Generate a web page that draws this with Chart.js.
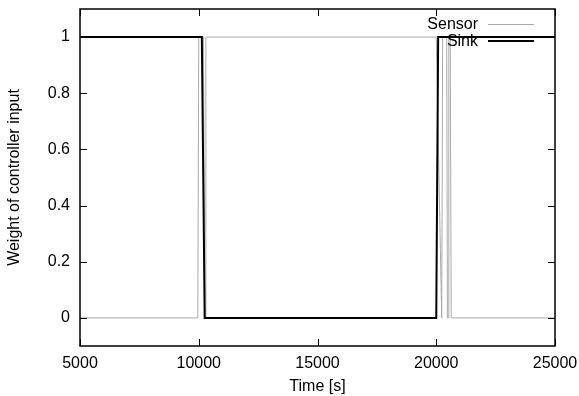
<!DOCTYPE html>
<html>
<head>
<meta charset="utf-8">
<script src="https://cdn.jsdelivr.net/npm/chart.js@4.4.1/dist/chart.umd.min.js"></script>
<style>
  html, body { margin: 0; padding: 0; background: #fff; }
  #wrap { width: 579px; height: 396px; }
</style>
</head>
<body>
<div id="wrap"><canvas id="c" width="579" height="396"></canvas></div>
<script>
// donnees
const sensorTime   = [5000, 9960, 10000, 10200, 10250, 10270, 10300, 20000, 20230, 20270, 20440, 20470, 20500, 20530, 20590, 20630, 25000];
const sensorWeight = [0,    0,    1,     1,     0,     0,     1,     1,     0,     1,     1,     0,     0,     1,     1,     0,     0];
const sinkTime     = [5000, 10130, 10250, 20000, 20080, 25000];
const sinkWeight   = [1,    1,     0,     0,     1,     1];
const xTicks = [5000, 10000, 15000, 20000, 25000];
const yTicks = [0, 0.2, 0.4, 0.6, 0.8, 1];

const font = 'Liberation Sans, Arial, Helvetica, sans-serif';

// cadre + ticks vers l'interieur sur les 4 cotes (style gnuplot)
const framePlugin = {
  id: 'frame',
  afterDatasetsDraw(chart) {
    const { ctx, chartArea: a, scales } = chart;
    ctx.save();
    ctx.strokeStyle = '#000';
    ctx.lineWidth = 1;
    ctx.beginPath();
    xTicks.forEach(v => {
      const x = Math.round(scales.x.getPixelForValue(v)) + 0.5;
      ctx.moveTo(x, a.bottom); ctx.lineTo(x, a.bottom - 7);
      ctx.moveTo(x, a.top);    ctx.lineTo(x, a.top + 7);
    });
    yTicks.forEach(v => {
      const y = Math.round(scales.y.getPixelForValue(v)) + 0.5;
      ctx.moveTo(a.left, y);  ctx.lineTo(a.left + 7, y);
      ctx.moveTo(a.right, y); ctx.lineTo(a.right - 7, y);
    });
    ctx.stroke();
    ctx.lineWidth = 1.5;
    ctx.strokeRect(a.left, a.top, a.right - a.left, a.bottom - a.top);

    // legende
    ctx.font = '16px ' + font;
    ctx.fillStyle = '#000';
    ctx.textAlign = 'right';
    ctx.textBaseline = 'middle';
    const items = [
      { label: 'Sensor', color: '#aaaaaa', w: 1, y: 24.5 },
      { label: 'Sink',   color: '#000',    w: 2, y: 41 }
    ];
    items.forEach(it => {
      ctx.fillText(it.label, 478, it.y + 0.5);
      ctx.strokeStyle = it.color;
      ctx.lineWidth = it.w;
      ctx.beginPath();
      ctx.moveTo(488, it.y); ctx.lineTo(534, it.y);
      ctx.stroke();
    });
    ctx.restore();
  }
};

new Chart(document.getElementById('c'), {
  type: 'line',
  data: {
    datasets: [
      {
        label: 'Sensor',
        data: sensorTime.map((t, i) => ({ x: t, y: sensorWeight[i] })),
        borderColor: '#aaaaaa',
        borderWidth: 1,
        pointRadius: 0,
        tension: 0,
        order: 1
      },
      {
        label: 'Sink',
        data: sinkTime.map((t, i) => ({ x: t, y: sinkWeight[i] })),
        borderColor: '#000',
        borderWidth: 2,
        pointRadius: 0,
        tension: 0,
        order: 0
      }
    ]
  },
  options: {
    responsive: false,
    animation: false,
    layout: { padding: { top: 9, right: 24, left: 0, bottom: 0 } },
    plugins: { legend: { display: false }, tooltip: { enabled: false } },
    scales: {
      x: {
        type: 'linear',
        min: 5000, max: 25000,
        afterBuildTicks: s => { s.ticks = xTicks.map(v => ({ value: v })); },
        afterFit: s => { s.height = 50; s.paddingLeft = 0; s.paddingRight = 0; },
        grid: { display: false, drawTicks: false },
        border: { display: false },
        ticks: { color: '#000', font: { family: font, size: 16 }, padding: 8, maxRotation: 0, callback: v => String(v) },
        title: { display: true, text: 'Time [s]', color: '#000', font: { family: font, size: 16 }, padding: { top: 2, bottom: 0 } }
      },
      y: {
        min: -0.1, max: 1.1,
        afterBuildTicks: s => { s.ticks = yTicks.map(v => ({ value: v })); },
        afterFit: s => { s.width = 80; s.paddingTop = 0; s.paddingBottom = 0; },
        grid: { display: false, drawTicks: false },
        border: { display: false },
        ticks: { color: '#000', font: { family: font, size: 16 }, padding: 10, callback: v => String(v) },
        title: { display: true, text: 'Weight of controller input', color: '#000', font: { family: font, size: 16 }, padding: { top: 5, bottom: 0 } }
      }
    }
  },
  plugins: [framePlugin]
});
</script>
</body>
</html>
